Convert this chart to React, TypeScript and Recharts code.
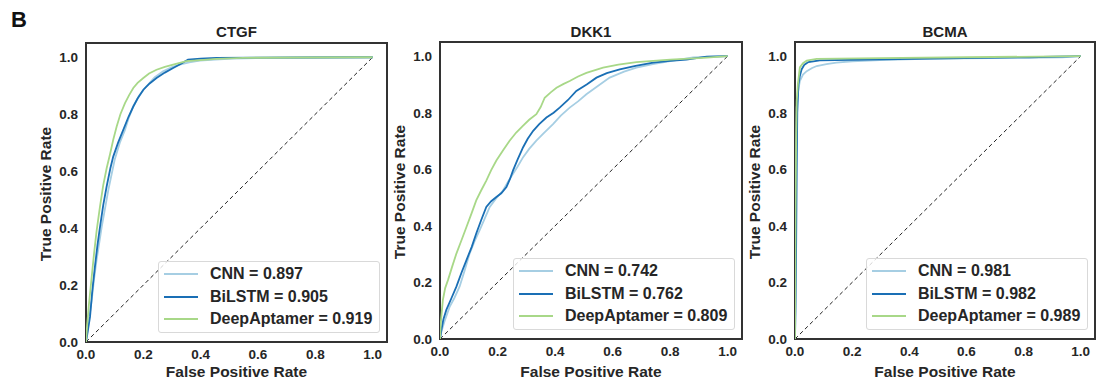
import React from "react";
import {
  LineChart,
  Line,
  XAxis,
  YAxis,
  ReferenceArea,
  ReferenceLine,
} from "recharts";

// ROC points as [fpr, tpr]
const ctgfCnn = [
  [0, 0], [0.005, 0.04], [0.012, 0.09], [0.02, 0.147], [0.028, 0.22], [0.037, 0.288],
  [0.055, 0.405], [0.078, 0.534], [0.1, 0.64], [0.118, 0.7], [0.136, 0.745], [0.15, 0.79],
  [0.165, 0.827], [0.185, 0.865], [0.211, 0.898], [0.24, 0.93], [0.269, 0.951], [0.3, 0.965],
  [0.327, 0.974], [0.36, 0.982], [0.397, 0.988], [0.45, 0.992], [0.513, 0.995], [0.63, 0.998],
  [0.8, 0.999], [1, 1],
];
const ctgfBilstm = [
  [0, 0], [0.005, 0.03], [0.014, 0.088], [0.022, 0.18], [0.031, 0.264], [0.04, 0.34],
  [0.049, 0.405], [0.06, 0.48], [0.072, 0.546], [0.085, 0.61], [0.095, 0.651], [0.112, 0.7],
  [0.13, 0.745], [0.148, 0.79], [0.165, 0.827], [0.18, 0.855], [0.2, 0.886], [0.222, 0.908],
  [0.246, 0.927], [0.275, 0.946], [0.304, 0.962], [0.33, 0.976], [0.356, 0.992], [0.4, 0.995],
  [0.455, 0.998], [0.75, 0.999], [1, 1],
];
const ctgfDeep = [
  [0, 0], [0.004, 0.06], [0.01, 0.13], [0.02, 0.23], [0.028, 0.31], [0.037, 0.39],
  [0.048, 0.47], [0.06, 0.55], [0.072, 0.61], [0.084, 0.66], [0.095, 0.71], [0.107, 0.757],
  [0.12, 0.8], [0.136, 0.839], [0.15, 0.866], [0.165, 0.892], [0.18, 0.91], [0.2, 0.927],
  [0.22, 0.943], [0.246, 0.956], [0.275, 0.966], [0.304, 0.974], [0.35, 0.986], [0.4, 0.99],
  [0.455, 0.994], [0.548, 0.998], [0.75, 0.999], [1, 1],
];

const dkkCnn = [
  [0, 0], [0.005, 0.027], [0.015, 0.06], [0.034, 0.115], [0.05, 0.145], [0.068, 0.185],
  [0.085, 0.24], [0.103, 0.302], [0.12, 0.345], [0.138, 0.385], [0.155, 0.425], [0.173, 0.467],
  [0.195, 0.497], [0.219, 0.525], [0.236, 0.555], [0.254, 0.584], [0.27, 0.61], [0.289, 0.643],
  [0.31, 0.672], [0.335, 0.701], [0.36, 0.727], [0.393, 0.76], [0.42, 0.79], [0.451, 0.818],
  [0.48, 0.84], [0.509, 0.865], [0.55, 0.895], [0.59, 0.924], [0.64, 0.945], [0.683, 0.959],
  [0.74, 0.972], [0.8, 0.982], [0.88, 0.996], [0.95, 0.998], [1, 1],
];
const dkkBilstm = [
  [0, 0], [0.005, 0.033], [0.012, 0.07], [0.022, 0.103], [0.04, 0.145], [0.057, 0.185],
  [0.075, 0.235], [0.092, 0.279], [0.11, 0.325], [0.126, 0.373], [0.143, 0.42], [0.161, 0.467],
  [0.178, 0.487], [0.196, 0.502], [0.213, 0.515], [0.231, 0.537], [0.243, 0.565], [0.254, 0.596],
  [0.27, 0.635], [0.289, 0.678], [0.305, 0.708], [0.324, 0.736], [0.345, 0.76], [0.37, 0.783],
  [0.395, 0.8], [0.416, 0.818], [0.445, 0.845], [0.474, 0.877], [0.51, 0.9], [0.544, 0.924],
  [0.58, 0.94], [0.625, 0.953], [0.68, 0.966], [0.741, 0.977], [0.8, 0.983], [0.857, 0.988],
  [0.927, 0.998], [1, 1],
];
const dkkDeep = [
  [0, 0], [0.003, 0.06], [0.01, 0.138], [0.018, 0.18], [0.028, 0.209], [0.042, 0.255],
  [0.057, 0.302], [0.075, 0.35], [0.092, 0.396], [0.11, 0.445], [0.126, 0.49], [0.143, 0.525],
  [0.161, 0.56], [0.178, 0.597], [0.196, 0.631], [0.22, 0.668], [0.242, 0.701], [0.265, 0.73],
  [0.289, 0.754], [0.31, 0.775], [0.335, 0.795], [0.35, 0.82], [0.364, 0.853], [0.385, 0.872],
  [0.405, 0.888], [0.43, 0.902], [0.451, 0.912], [0.48, 0.928], [0.509, 0.941], [0.567, 0.959],
  [0.62, 0.97], [0.683, 0.979], [0.8, 0.988], [0.915, 0.994], [1, 1],
];

const bcmaCnn = [
  [0, 0], [0.002, 0.1], [0.003, 0.32], [0.004, 0.55], [0.005, 0.72], [0.006, 0.818],
  [0.01, 0.87], [0.017, 0.912], [0.028, 0.935], [0.041, 0.947], [0.06, 0.958], [0.076, 0.965],
  [0.11, 0.972], [0.145, 0.977], [0.2, 0.982], [0.297, 0.986], [0.45, 0.99], [0.587, 0.992],
  [0.8, 0.994], [0.936, 0.996], [1, 1],
];
const bcmaBilstm = [
  [0, 0], [0.002, 0.15], [0.004, 0.33], [0.006, 0.6], [0.008, 0.8], [0.012, 0.9],
  [0.017, 0.93], [0.023, 0.953], [0.033, 0.97], [0.047, 0.979], [0.087, 0.985], [0.2, 0.987],
  [0.47, 0.991], [0.82, 0.996], [1, 1],
];
const bcmaDeep = [
  [0, 0], [0.001, 0.2], [0.002, 0.45], [0.004, 0.7], [0.006, 0.84], [0.01, 0.9],
  [0.017, 0.96], [0.028, 0.975], [0.041, 0.984], [0.076, 0.99], [0.3, 0.993], [0.6, 0.996],
  [1, 1],
];

const modelNames = ["CNN", "BiLSTM", "DeepAptamer"];
const ctgfAuc = ["0.897", "0.905", "0.919"];
const dkkAuc = ["0.742", "0.762", "0.809"];
const bcmaAuc = ["0.981", "0.982", "0.989"];
const axisTicks = [0, 0.2, 0.4, 0.6, 0.8, 1.0];

const colors = ["#a6cee3", "#1a6fb5", "#a8d888"];
const FONT = '"Liberation Sans", Arial, sans-serif';

const toPoints = (pairs: number[][]) => pairs.map(([x, y]) => ({ x, y }));

const panels = [
  {
    title: "CTGF",
    series: [ctgfCnn, ctgfBilstm, ctgfDeep],
    auc: ctgfAuc,
    left: 0,
    width: 390,
    margin: { top: 43, right: 3, bottom: 19, left: 46 },
    plotLeft: 86,
    plotRight: 387,
    plotTop: 43,
    plotBottom: 342,
    yLabelX: 46,
  },
  {
    title: "DKK1",
    series: [dkkCnn, dkkBilstm, dkkDeep],
    auc: dkkAuc,
    left: 392,
    width: 354,
    margin: { top: 42, right: 4, bottom: 22, left: 8 },
    plotLeft: 440,
    plotRight: 742,
    plotTop: 42,
    plotBottom: 339,
    yLabelX: 400,
  },
  {
    title: "BCMA",
    series: [bcmaCnn, bcmaBilstm, bcmaDeep],
    auc: bcmaAuc,
    left: 748,
    width: 348,
    margin: { top: 42, right: 1, bottom: 22, left: 7 },
    plotLeft: 795,
    plotRight: 1095,
    plotTop: 42,
    plotBottom: 339,
    yLabelX: 755,
  },
];

const tickStyle = { fill: "#262626", fontSize: 13.5, fontWeight: 700, fontFamily: FONT };

const RocPanel: React.FC<{ p: (typeof panels)[number] }> = ({ p }) => {
  const cx = (p.plotLeft + p.plotRight) / 2;
  const cy = (p.plotTop + p.plotBottom) / 2;
  const legW = 222;
  const legH = 72;
  const legLeft = p.plotRight - 7 - legW;
  const legTop = p.plotBottom - 9 - legH;
  return (
    <>
      <div style={{ position: "absolute", left: p.left, top: 0 }}>
        <LineChart width={p.width} height={381} margin={p.margin}>
          <XAxis
            type="number"
            dataKey="x"
            domain={[0, 1.05]}
            ticks={axisTicks}
            allowDataOverflow
            axisLine={false}
            tickLine={false}
            tickSize={0}
            tickMargin={7}
            height={20}
            tick={tickStyle}
            tickFormatter={(v: number) => v.toFixed(1)}
          />
          <YAxis
            type="number"
            dataKey="y"
            domain={[0, 1.05]}
            ticks={axisTicks}
            allowDataOverflow
            axisLine={false}
            tickLine={false}
            tickSize={0}
            tickMargin={8}
            width={40}
            tick={tickStyle}
            tickFormatter={(v: number) => v.toFixed(1)}
          />
          <ReferenceLine
            segment={[{ x: 0, y: 0 }, { x: 1, y: 1 }]}
            stroke="#222"
            strokeWidth={1}
            strokeDasharray="4 3"
          />
          {p.series.map((s, i) => (
            <Line
              key={modelNames[i]}
              data={toPoints(s)}
              dataKey="y"
              type="linear"
              stroke={colors[i]}
              strokeWidth={1.8}
              dot={false}
              isAnimationActive={false}
            />
          ))}
          <ReferenceArea
            x1={0}
            x2={1.05}
            y1={0}
            y2={1.05}
            fill="none"
            fillOpacity={0}
            stroke="#333"
            strokeWidth={2}
          />
        </LineChart>
      </div>
      <div
        style={{
          position: "absolute",
          left: cx,
          top: 31,
          transform: "translate(-50%, -50%)",
          fontSize: 15,
          fontWeight: 700,
          color: "#222",
          whiteSpace: "nowrap",
        }}
      >
        {p.title}
      </div>
      <div
        style={{
          position: "absolute",
          left: cx,
          top: 372,
          transform: "translate(-50%, -50%)",
          fontSize: 15.5,
          fontWeight: 700,
          color: "#262626",
          whiteSpace: "nowrap",
        }}
      >
        False Positive Rate
      </div>
      <div
        style={{
          position: "absolute",
          left: p.yLabelX,
          top: cy + 1,
          transform: "translate(-50%, -50%) rotate(-90deg)",
          fontSize: 15.5,
          fontWeight: 700,
          color: "#262626",
          whiteSpace: "nowrap",
        }}
      >
        True Positive Rate
      </div>
      <div
        style={{
          position: "absolute",
          left: legLeft,
          top: legTop,
          width: legW,
          height: legH,
          boxSizing: "border-box",
          border: "1px solid #d9d9d9",
          borderRadius: 3,
          background: "rgba(255,255,255,0.8)",
        }}
      >
        {modelNames.map((name, i) => (
          <div
            key={name}
            style={{
              position: "absolute",
              left: 0,
              top: 12 + i * 22.5,
              width: legW,
              height: 0,
            }}
          >
            <div
              style={{
                position: "absolute",
                left: 5,
                top: -1,
                width: 34,
                height: 2,
                background: colors[i],
              }}
            />
            <div
              style={{
                position: "absolute",
                left: 51,
                top: -10,
                lineHeight: "20px",
                fontSize: 16,
                fontWeight: 700,
                color: "#262626",
                whiteSpace: "nowrap",
              }}
            >
              {`${name} = ${p.auc[i]}`}
            </div>
          </div>
        ))}
      </div>
    </>
  );
};

export default function App() {
  return (
    <div
      style={{
        position: "absolute",
        left: 0,
        top: 0,
        width: 1096,
        height: 381,
        background: "#fff",
        fontFamily: FONT,
        overflow: "hidden",
      }}
    >
      <div
        style={{
          position: "absolute",
          left: 11,
          top: 8,
          fontSize: 22,
          fontWeight: 700,
          color: "#111",
          lineHeight: "24px",
        }}
      >
        B
      </div>
      {panels.map((p) => (
        <RocPanel key={p.title} p={p} />
      ))}
    </div>
  );
}
